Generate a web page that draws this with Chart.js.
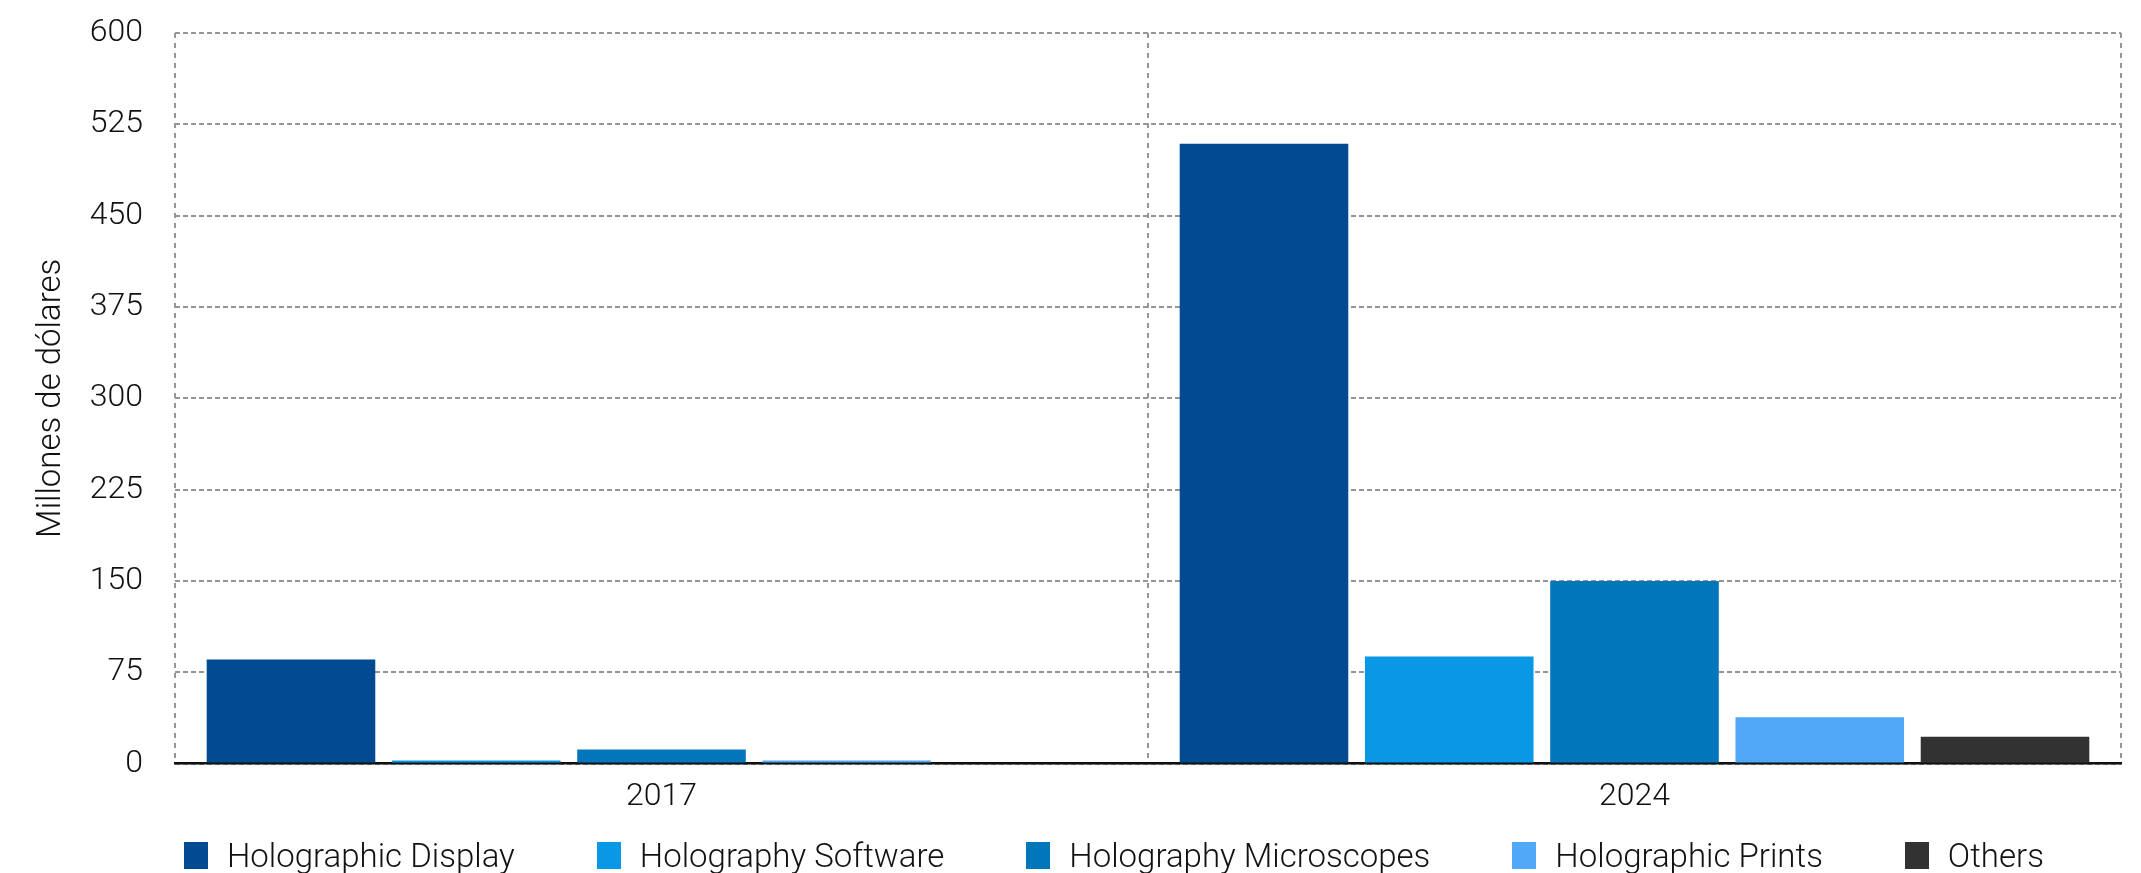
<!DOCTYPE html>
<html>
<head>
<meta charset="utf-8">
<script src="https://cdn.jsdelivr.net/npm/chart.js@4.4.0/dist/chart.umd.min.js"></script>
<style>
    html, body { margin: 0; padding: 0; background: #fff; }
    #wrap { position: relative; width: 2141px; height: 873px; }
    #wrap canvas { display: block; }
    #legend {
        position: absolute; left: 184px; top: 836px;
        display: flex; align-items: center; gap: 82px;
        font-family: Roboto, "Liberation Sans", sans-serif; font-weight: 300;
        font-size: 33px; color: #111; white-space: nowrap;
    }
    #legend .item { display: flex; align-items: center; }
    #legend .box { width: 24px; height: 27px; margin-right: 19px; }
</style>
</head>
<body>
<div id="wrap">
    <canvas id="chart" width="2141" height="873"></canvas>
    <div id="legend"></div>
</div>
<script>
const years = ['2017', '2024'];
const seriesNames = ['Holographic Display', 'Holography Software', 'Holography Microscopes', 'Holographic Prints', 'Others'];
const seriesColors = ['#004a91', '#0998e5', '#0276bb', '#51a8f8', '#323232'];
const displayValues = [85.5, 509];
const softwareValues = [2.5, 88];
const microscopeValues = [11.5, 150];
const printValues = [2.5, 38];
const otherValues = [0, 22];
const yTicks = [0, 75, 150, 225, 300, 375, 450, 525, 600];

const allValues = [displayValues, softwareValues, microscopeValues, printValues, otherValues];

const datasets = seriesNames.map((name, i) => ({
    label: name,
    data: allValues[i],
    backgroundColor: seriesColors[i],
    borderWidth: 0,
    barPercentage: 0.91,
    categoryPercentage: 0.952,
}));

const fontFamily = 'Roboto, "Liberation Sans", sans-serif';
const gridColor = '#969696';

new Chart(document.getElementById('chart'), {
    type: 'bar',
    data: { labels: years, datasets },
    options: {
        responsive: false,
        animation: false,
        layout: { padding: { top: 33, right: 20, bottom: 43, left: 0 } },
        plugins: {
            legend: { display: false },
            tooltip: { enabled: false },
        },
        scales: {
            x: {
                grid: {
                    offset: true,
                    drawTicks: false,
                    color: gridColor,
                    lineWidth: 2,
                },
                // border.dash is used for the grid lines, the border itself stays solid
                border: { display: true, color: '#111', width: 2.5, dash: [5, 5] },
                ticks: {
                    padding: 14,
                    color: '#111',
                    font: { family: fontFamily, size: 32, weight: 300 },
                },
            },
            y: {
                min: 0,
                max: 600,
                afterFit: (scale) => { scale.width = 175; },
                afterBuildTicks: (scale) => { scale.ticks = yTicks.map(v => ({ value: v })); },
                grid: {
                    drawTicks: true,
                    tickLength: 32,
                    tickColor: 'rgba(0,0,0,0)',
                    color: gridColor,
                    lineWidth: 2,
                },
                border: { display: false, dash: [5, 3] },
                ticks: {
                    padding: 0,
                    color: '#111',
                    font: { family: fontFamily, size: 32, weight: 300 },
                },
                title: {
                    display: true,
                    text: 'Millones de dólares',
                    color: '#111',
                    padding: { top: 32, bottom: 0 },
                    font: { family: fontFamily, size: 33, weight: 300 },
                },
            },
        },
    },
});

// legend under the chart
const legendDiv = document.getElementById('legend');
seriesNames.forEach((name, i) => {
    const item = document.createElement('div');
    item.className = 'item';
    item.innerHTML = `<span class="box" style="background:${seriesColors[i]}"></span><span>${name}</span>`;
    legendDiv.appendChild(item);
});
</script>
</body>
</html>
